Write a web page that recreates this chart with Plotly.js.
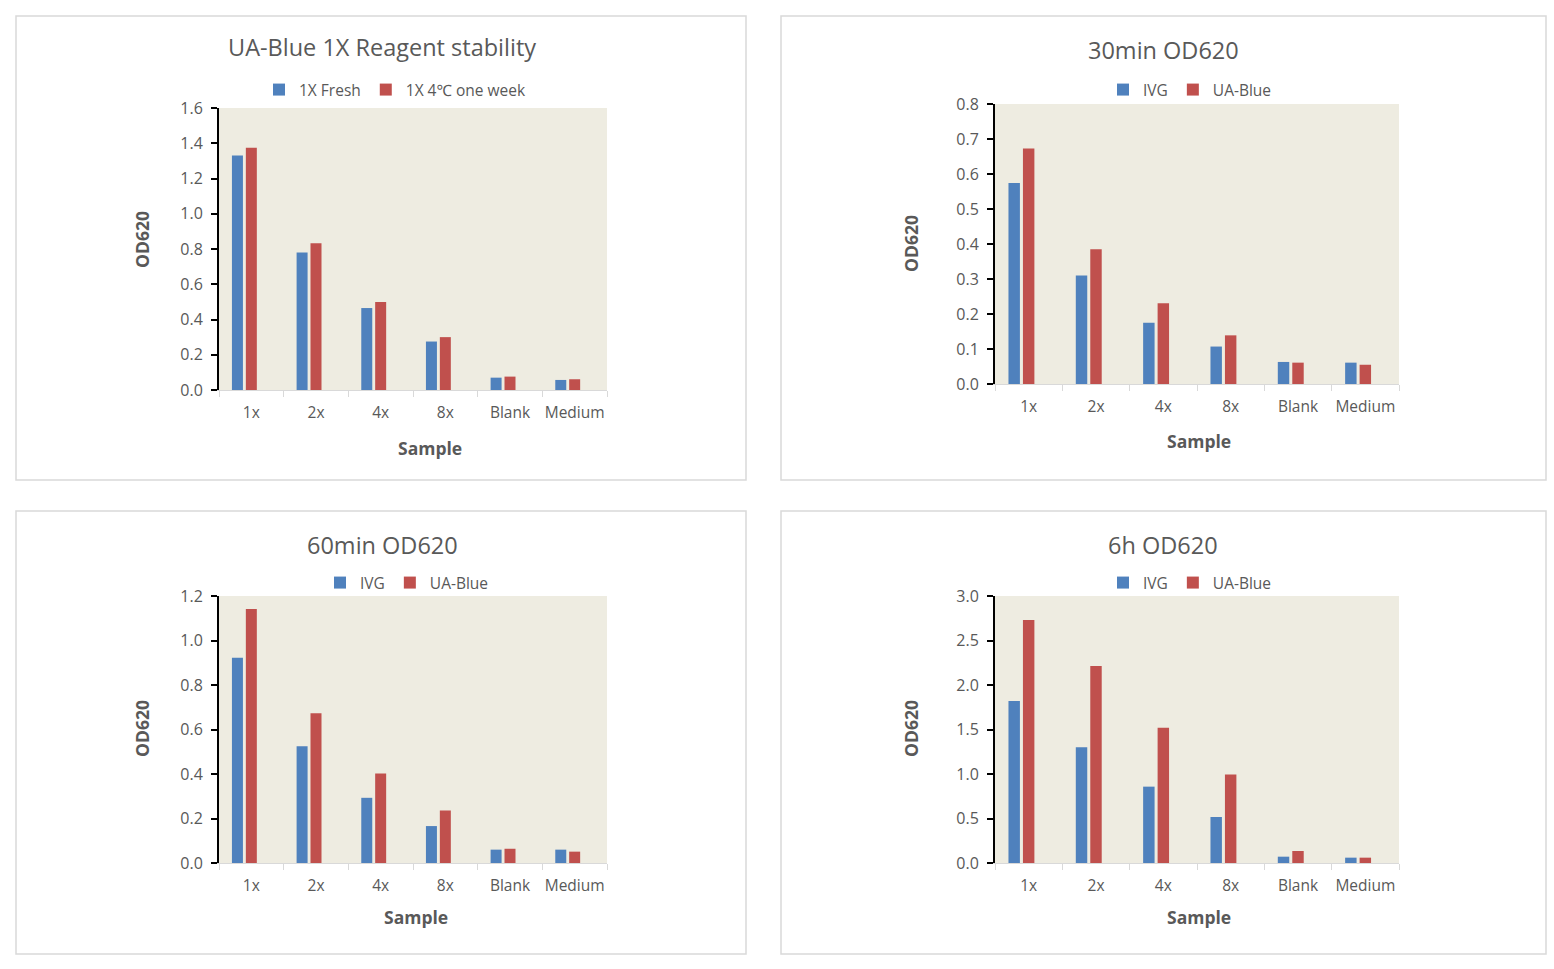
<!DOCTYPE html>
<html>
<head>
<meta charset="utf-8">
<script src="https://cdn.plot.ly/plotly-3.0.1.min.js"></script>
<style>
  body { margin: 0; background: #fff; }
  #odCharts { width: 1554px; height: 969px; }
</style>
</head>
<body>
<div id="odCharts"></div>
<script>
// sample dilutions on the x axis
const categories = ["1x", "2x", "4x", "8x", "Blank", "Medium"];

// panel 1: reagent stability
const freshOD = [1.33, 0.78, 0.465, 0.275, 0.07, 0.057];
const weekOD = [1.375, 0.833, 0.50, 0.30, 0.076, 0.061];

// panel 2: 30 min
const ivg30 = [0.574, 0.310, 0.175, 0.107, 0.063, 0.061];
const uab30 = [0.673, 0.385, 0.231, 0.139, 0.061, 0.055];

// panel 3: 60 min
const ivg60 = [0.923, 0.525, 0.293, 0.166, 0.060, 0.060];
const uab60 = [1.142, 0.673, 0.402, 0.236, 0.064, 0.051];

// panel 4: 6 h
const ivg6h = [1.82, 1.30, 0.858, 0.517, 0.071, 0.060];
const uab6h = [2.73, 2.213, 1.521, 0.993, 0.135, 0.060];

const panelTitles = ["UA-Blue 1X Reagent stability", "30min OD620", "60min OD620", "6h OD620"];
const yMax = [1.6, 0.8, 1.2, 3.0];
const yStep = [0.2, 0.1, 0.2, 0.5];

const W = 1554, H = 969;
const px = x => x / W;
const py = y => 1 - y / H;

const BLUE = "#4F81BD", RED = "#C0504D", GREY = "#595959";
const FONT = "Open Sans, Noto Sans, sans-serif";

// pixel boxes of each panel: frame, plot area, title/legend/axis title spots
const panels = [
    { frame: [16, 16, 746, 480], plot: [219, 108, 607, 390], title: [382, 47], legend: [395, 90], ytitle: [142, 240], xtitle: [430, 448] },
    { frame: [781, 16, 1546, 480], plot: [995, 104, 1399, 384], title: [1163, 50], legend: [1190, 90], ytitle: [911, 244], xtitle: [1199, 441] },
    { frame: [16, 511, 746, 954], plot: [219, 596, 607, 863], title: [382, 545], legend: [407, 583], ytitle: [142, 729], xtitle: [416, 917] },
    { frame: [781, 511, 1546, 954], plot: [995, 596, 1399, 863], title: [1163, 545], legend: [1190, 583], ytitle: [911, 729], xtitle: [1199, 917] }
];

const seriesPairs = [
    [["1X Fresh", freshOD], ["1X 4\u2103 one week", weekOD]],
    [["IVG", ivg30], ["UA-Blue", uab30]],
    [["IVG", ivg60], ["UA-Blue", uab60]],
    [["IVG", ivg6h], ["UA-Blue", uab6h]]
];

let data = [];
let layout = {
    width: W,
    height: H,
    margin: { l: 0, r: 0, t: 0, b: 0 },
    paper_bgcolor: "#ffffff",
    plot_bgcolor: "#EEECE1",
    font: { family: FONT, color: GREY },
    barmode: "group",
    shapes: [],
    annotations: []
};

panels.forEach((p, i) => {
    let n = i === 0 ? "" : String(i + 1);
    let xa = "x" + n, ya = "y" + n;
    let legendName = "legend" + n;

    seriesPairs[i].forEach(([name, vals], k) => {
        data.push({
            type: "bar",
            name: name,
            x: categories,
            y: vals,
            xaxis: xa,
            yaxis: ya,
            legend: legendName,
            marker: { color: k === 0 ? BLUE : RED },
            width: 0.17,
            // the Excel chart leaves an empty third slot, so red sits on the category centre
            offset: k === 0 ? -0.30 : -0.085,
            hoverinfo: "x+y+name"
        });
    });

    layout["xaxis" + n] = {
        domain: [px(p.plot[0]), px(p.plot[2])],
        anchor: ya,
        type: "category",
        range: [-0.5, 5.5],
        showline: true,
        linecolor: "#D9D9D9",
        linewidth: 1,
        ticks: "outside",
        tickson: "boundaries",
        ticklen: 6,
        tickcolor: "#D9D9D9",
        tickangle: 0,
        ticklabelstandoff: 8,
        showgrid: false,
        tickfont: { size: 15.5, color: GREY, family: FONT },
        fixedrange: true
    };
    layout["yaxis" + n] = {
        domain: [py(p.plot[3]), py(p.plot[1])],
        anchor: xa,
        range: [0, yMax[i]],
        dtick: yStep[i],
        tick0: 0,
        tickformat: ".1f",
        showline: true,
        linecolor: "#000000",
        linewidth: 2,
        ticks: "outside",
        ticklen: 6,
        tickwidth: 1.5,
        tickcolor: "#000000",
        ticklabelstandoff: 5,
        showgrid: false,
        zeroline: false,
        tickfont: { size: 16, color: GREY, family: FONT },
        fixedrange: true
    };
    layout[legendName] = {
        x: px(p.legend[0]),
        y: py(p.legend[1]),
        xanchor: "center",
        yanchor: "middle",
        orientation: "h",
        bgcolor: "rgba(0,0,0,0)",
        font: { size: 15.5, color: GREY, family: FONT },
        itemwidth: 30,
        tracegroupgap: 0
    };

    layout.shapes.push({
        type: "rect", xref: "paper", yref: "paper", layer: "below",
        x0: px(p.frame[0]), x1: px(p.frame[2]),
        y0: py(p.frame[3]), y1: py(p.frame[1]),
        line: { color: "#D9D9D9", width: 1.5 },
        fillcolor: "rgba(0,0,0,0)"
    });

    layout.annotations.push(
        {
            text: panelTitles[i], xref: "paper", yref: "paper",
            x: px(p.title[0]), y: py(p.title[1]), xanchor: "center", yanchor: "middle",
            showarrow: false, font: { size: 23.5, color: GREY, family: FONT }
        },
        {
            text: "<b>OD620</b>", xref: "paper", yref: "paper", textangle: -90,
            x: px(p.ytitle[0]), y: py(p.ytitle[1]), xanchor: "center", yanchor: "middle",
            showarrow: false, font: { size: 17.5, color: GREY, family: FONT }
        },
        {
            text: "<b>Sample</b>", xref: "paper", yref: "paper",
            x: px(p.xtitle[0]), y: py(p.xtitle[1]), xanchor: "center", yanchor: "middle",
            showarrow: false, font: { size: 17.5, color: GREY, family: FONT }
        }
    );
});

Plotly.newPlot("odCharts", data, layout, { displayModeBar: false, showLink: false });
</script>
</body>
</html>
